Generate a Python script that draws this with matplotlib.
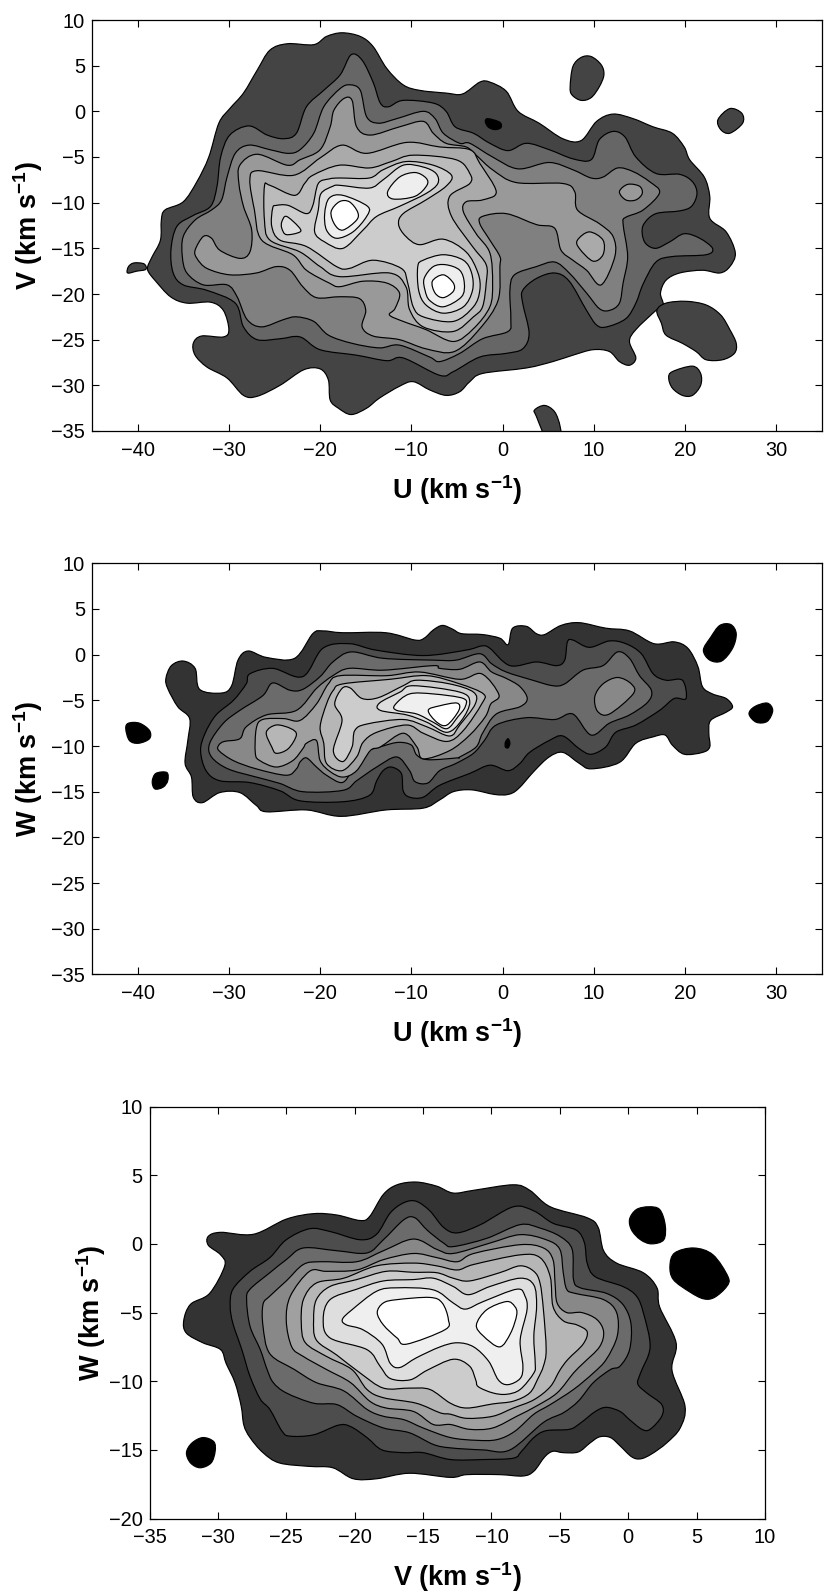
import matplotlib
matplotlib.use('Agg')
import numpy as np
import matplotlib.pyplot as plt
from matplotlib.path import Path
from matplotlib.patches import PathPatch

plt.rcParams['font.family'] = ['Liberation Sans', 'DejaVu Sans']
plt.rcParams['mathtext.default'] = 'regular'

W_PX, H_PX = 830, 1594

# ---------- contour outlines, km/s ----------
# top panel (U, V)
uv_black = [(-1.9,-1.1),(-1.6,-0.8),(-0.3,-1.2),(-0.2,-1.8),(-0.9,-2.0),(-1.6,-1.7)]
uv_l1 = [(-38.9,-17.0),(-38.4,-15.9),(-37.5,-14.1),(-37.4,-11.9),(-37.0,-10.8),(-35.0,-9.9),(-33.5,-7.7),(-32.2,-5.0),
         (-31.1,-1.3),(-29.9,0.3),(-28.4,2.0),(-26.9,4.5),(-25.5,6.7),(-23.6,7.4),(-20.7,7.3),(-19.3,8.2),(-17.6,8.6),
         (-15.6,8.2),(-14.2,7.1),(-12.7,4.7),(-10.9,2.9),(-9.1,2.3),(-6.2,2.0),(-4.4,1.9),(-2.5,3.2),(-1.4,3.2),(0.4,2.2),
         (1.7,0.0),(4.0,-1.3),(6.6,-3.0),(8.6,-3.2),(10.3,-1.1),(12.1,-0.3),(14.3,-0.8),(16.5,-1.7),(18.6,-2.4),(19.9,-3.9),
         (20.5,-5.3),(22.1,-7.2),(22.7,-9.3),(22.7,-11.7),(24.5,-13.2),(25.5,-15.5),(24.9,-17.0),(23.8,-17.7),(21.9,-17.4),
         (19.4,-17.7),(17.9,-18.5),(17.3,-19.9),(17.6,-21.2),(16.8,-21.8),(14.6,-23.9),(13.9,-25.2),(14.6,-27.0),(13.9,-27.8),
         (12.8,-27.4),(11.7,-26.3),(9.9,-26.1),(7.7,-26.7),(5.5,-27.4),(2.6,-28.1),(-2.2,-28.7),(-3.6,-29.6),(-4.7,-30.7),
         (-6.2,-31.1),(-8.0,-30.5),(-9.8,-29.6),(-11.3,-30.1),(-13.5,-31.4),(-14.9,-32.5),(-16.6,-33.2),(-18.0,-32.5),
         (-18.9,-31.6),(-19.1,-29.4),(-20.0,-28.2),(-21.8,-28.3),(-24.4,-30.0),(-26.9,-31.2),(-28.4,-31.1),(-30.2,-29.2),
         (-32.4,-28.0),(-33.7,-26.7),(-33.9,-25.4),(-33.0,-24.6),(-30.6,-24.7),(-30.0,-23.9),(-30.6,-21.8),(-32.0,-20.9),
         (-34.6,-21.0),(-36.4,-20.3),(-38.1,-18.5),(-38.8,-17.6)]
uv_l1_left = [(-41.1,-17.7),(-41.0,-17.0),(-40.4,-16.6),(-39.3,-16.7),(-39.1,-17.3),(-40.1,-17.5)]
uv_l1_top = [(7.4,2.7),(7.7,4.9),(8.6,5.9),(9.7,6.0),(10.8,5.1),(11.1,4.0),(10.6,2.7),(9.7,1.5),(8.6,1.2),(7.6,1.8)]
uv_l1_small = [(23.6,-0.9),(24.9,0.3),(26.2,-0.2),(26.3,-1.3),(24.9,-2.4),(23.9,-2.0)]
uv_l1_right = [(16.9,-21.8),(17.9,-21.0),(20.1,-20.8),(22.3,-21.2),(23.9,-22.3),(24.9,-23.9),(25.6,-25.4),(25.4,-26.5),
               (24.1,-27.2),(22.3,-27.2),(21.2,-26.3),(19.7,-25.4),(17.9,-24.5),(17.4,-23.2)]
uv_l1_low = [(18.2,-29.2),(18.6,-28.5),(20.8,-27.9),(21.7,-28.7),(21.7,-30.0),(20.8,-31.1),(19.7,-31.1),(18.6,-30.3)]
uv_l1_bot = [(3.5,-32.7),(4.6,-32.2),(5.7,-32.9),(6.3,-34.5),(6.3,-36.0),(4.9,-36.0),(3.7,-33.4)]
uv_l2 = [(-36.35,-15.2),(-35.7,-12.6),(-33.9,-11.4),(-32.0,-10.4),(-31.3,-8.2),(-30.9,-5.0),(-29.9,-2.6),(-27.8,-1.6),
         (-25.8,-2.6),(-24.0,-3.0),(-22.6,-2.4),(-21.5,0.5),(-19.6,2.3),(-17.8,4.0),(-16.6,6.2),(-15.4,5.6),(-14.2,3.2),
         (-13.4,0.9),(-12.5,0.5),(-10.9,1.2),(-7.6,0.9),(-6.2,0.0),(-5.2,-1.7),(-3.2,-2.4),(-1.4,-3.5),(0.6,-4.3),(2.6,-3.5),
         (5.1,-4.2),(7.7,-5.2),(9.7,-5.3),(10.6,-3.1),(12.1,-2.2),(13.4,-2.8),(14.6,-5.0),(16.8,-6.8),(19.4,-6.9),(20.8,-7.7),
         (21.3,-9.0),(20.7,-10.4),(19.4,-10.9),(16.8,-11.2),(15.5,-12.3),(15.3,-13.4),(15.7,-14.5),(16.8,-15.0),(18.3,-14.3),
         (19.9,-13.4),(21.6,-13.9),(23.0,-15.0),(22.3,-15.7),(18.6,-15.9),(16.8,-16.5),(15.4,-18.9),(14.6,-21.0),(13.5,-22.7),
         (11.4,-23.6),(10.3,-23.4),(9.2,-21.8),(7.3,-18.6),(5.7,-17.7),(3.7,-18.3),(2.2,-19.6),(2.2,-21.0),(2.9,-24.3),
         (2.2,-26.0),(0.4,-26.5),(-2.5,-26.9),(-5.4,-28.5),(-6.9,-28.9),(-10.9,-27.0),(-12.7,-27.3),(-16.0,-26.7),(-20.0,-26.1),
         (-22.2,-24.7),(-24.4,-24.9),(-26.9,-25.0),(-28.4,-23.6),(-29.3,-21.0),(-32.4,-19.6),(-35.0,-19.0),(-36.1,-17.7)]
uv_l3 = [(-29.3,-4.6),(-27.8,-3.7),(-25.5,-4.2),(-23.5,-4.6),(-22.2,-4.2),(-20.7,-2.4),(-19.6,0.5),(-17.8,2.5),(-16.7,2.9),
         (-15.6,2.3),(-14.9,-0.6),(-13.6,-1.3),(-11.6,-0.8),(-8.7,0.0),(-7.4,-0.8),(-6.5,-2.4),(-4.7,-3.5),(-3.6,-3.5),
         (-1.1,-5.0),(1.7,-6.3),(5.1,-5.6),(7.7,-6.4),(9.7,-7.3),(11.0,-7.2),(12.6,-6.2),(14.3,-6.6),(16.1,-7.7),(17.2,-8.9),
         (15.4,-10.8),(13.5,-11.6),(13.2,-12.3),(13.7,-15.9),(13.2,-18.8),(12.8,-21.0),(11.7,-21.8),(10.6,-21.6),(9.2,-19.9),
         (7.3,-17.7),(5.7,-16.5),(3.7,-17.0),(1.3,-17.9),(0.8,-19.6),(0.9,-22.8),(0.6,-24.1),(-2.2,-24.9),(-4.7,-26.5),
         (-6.9,-27.4),(-8.0,-26.9),(-11.3,-25.6),(-13.5,-25.9),(-16.5,-25.4),(-19.1,-24.5),(-20.7,-23.0),(-22.6,-22.5),
         (-24.0,-22.8),(-26.4,-23.6),(-28.0,-22.8),(-29.1,-20.3),(-30.2,-19.0),(-32.8,-19.0),(-34.6,-17.7),(-35.1,-15.9),
         (-35.0,-13.7),(-33.7,-11.9),(-31.9,-10.8),(-30.8,-9.7),(-30.2,-7.2)]
uv_l4 = [(-33.7,-15.2),(-32.8,-13.7),(-31.9,-13.9),(-31.0,-15.2),(-28.8,-16.1),(-27.7,-15.4),(-27.5,-13.0),(-28.4,-10.4),
         (-28.9,-7.9),(-28.8,-5.9),(-26.9,-4.7),(-23.6,-5.9),(-22.2,-5.3),(-20.0,-4.2),(-18.9,-1.7),(-18.5,0.1),(-17.4,1.4),
         (-16.5,1.2),(-16.0,-1.7),(-14.5,-2.6),(-11.3,-1.7),(-8.7,-1.1),(-7.6,-2.4),(-6.2,-3.5),(-4.0,-3.9),(-2.9,-4.8),
         (-1.1,-6.4),(1.5,-7.8),(6.6,-7.9),(7.9,-8.8),(8.2,-10.8),(10.6,-12.3),(12.1,-13.7),(12.3,-15.9),(10.8,-19.0),
         (9.2,-17.4),(7.7,-16.3),(6.4,-15.2),(5.7,-12.8),(3.7,-12.4),(0.4,-11.2),(-2.2,-11.5),(-2.5,-12.3),(-1.4,-14.1),
         (-0.3,-15.9),(-0.3,-17.0),(-0.5,-20.7),(-2.5,-23.8),(-5.3,-26.3),(-8.4,-26.0),(-11.3,-25.0),(-14.2,-24.6),(-15.4,-23.6),
         (-15.0,-21.8),(-15.7,-20.5),(-17.85,-20.3),(-20.4,-20.4),(-21.9,-19.2),(-23.3,-17.4),(-24.8,-17.0),(-27.0,-17.7),
         (-29.9,-17.9),(-32.4,-17.2),(-33.5,-16.1)]
uv_l4_blob = [(12.8,-8.8),(13.7,-8.0),(15.0,-8.2),(15.3,-9.0),(14.6,-9.7),(13.5,-9.7)]
uv_l5 = [(-27.7,-7.5),(-26.9,-6.5),(-22.9,-7.0),(-20.0,-5.1),(-17.6,-3.7),(-14.9,-4.6),(-10.5,-3.4),(-6.9,-3.9),(-3.6,-4.2),
         (-2.5,-5.7),(-0.7,-8.8),(-2.2,-9.7),(-4.0,-9.9),(-4.3,-11.0),(-2.9,-13.4),(-1.4,-15.5),(-1.1,-18.8),(-1.4,-21.4),
         (-3.2,-23.8),(-5.4,-25.2),(-8.4,-23.9),(-10.9,-23.0),(-12.4,-22.3),(-11.8,-21.6),(-11.3,-19.9),(-12.7,-18.8),
         (-15.3,-18.6),(-17.85,-19.2),(-19.0,-18.8),(-21.5,-17.4),(-23.0,-15.7),(-26.4,-14.1),(-27.2,-10.8)]
uv_l5_blob = [(8.2,-14.1),(9.5,-13.2),(11.0,-14.1),(11.0,-15.7),(9.9,-16.4),(8.4,-15.0)]
uv_l6 = [(-26.1,-8.2),(-25.5,-8.1),(-22.8,-9.2),(-21.7,-7.9),(-20.8,-7.0),(-17.9,-5.9),(-14.6,-6.2),(-12.2,-5.5),(-9.8,-4.8),
         (-5.1,-5.3),(-3.6,-6.8),(-3.6,-7.9),(-5.8,-9.3),(-5.6,-11.5),(-3.3,-14.8),(-1.8,-16.8),(-1.8,-18.8),(-2.2,-21.4),
         (-3.2,-22.5),(-5.4,-24.1),(-8.7,-23.6),(-10.2,-21.7),(-10.6,-19.2),(-12.4,-17.7),(-17.85,-18.1),(-20.0,-17.0),
         (-22.2,-15.4),(-25.5,-14.1),(-26.1,-11.9)]
uv_l7 = [(-25.2,-10.6),(-24.8,-10.3),(-23.5,-10.3),(-21.5,-11.2),(-20.8,-10.3),(-20.2,-7.9),(-19.0,-7.4),(-17.85,-7.3),
         (-14.6,-7.3),(-13.1,-6.4),(-10.6,-5.5),(-7.6,-5.9),(-5.6,-7.0),(-6.2,-8.2),(-8.4,-9.7),(-10.9,-11.2),(-11.4,-12.4),
         (-10.6,-13.7),(-9.1,-14.6),(-6.5,-14.0),(-4.0,-15.4),(-2.7,-17.7),(-2.5,-19.6),(-3.2,-21.4),(-5.4,-23.0),(-8.7,-22.5),
         (-9.8,-21.4),(-10.4,-18.8),(-11.1,-17.2),(-14.2,-16.3),(-16.8,-17.2),(-18.2,-17.0),(-21.5,-14.8),(-24.4,-14.1),(-25.3,-12.6)]
uv_l8 = [(-20.6,-13.2),(-20.2,-10.8),(-19.9,-9.0),(-18.6,-8.2),(-17.85,-8.1),(-14.6,-8.4),(-13.1,-7.5),(-10.9,-5.9),(-8.7,-6.1),
         (-7.3,-6.8),(-7.1,-7.9),(-8.4,-9.0),(-11.3,-10.4),(-13.8,-11.5),(-15.3,-13.0),(-17.5,-15.0),(-19.5,-14.3)]
uv_l8_small = [(-24.2,-12.1),(-23.7,-11.5),(-22.4,-12.6),(-22.2,-13.2),(-23.7,-13.5),(-24.2,-12.8)]
uv_l8_peak = [(-9.3,-17.0),(-8.7,-16.3),(-6.5,-15.7),(-4.3,-16.3),(-3.4,-17.7),(-3.3,-19.6),(-4.3,-21.4),(-6.5,-22.1),(-8.4,-21.2),(-9.2,-19.6)]
uv_l9_peak = [(-8.6,-18.3),(-7.6,-17.0),(-6.2,-16.8),(-4.7,-17.4),(-4.2,-18.8),(-4.5,-20.3),(-6.5,-21.4),(-8.0,-20.7),(-8.5,-19.6)]
uv_l9_blob = [(-12.6,-8.8),(-11.3,-7.2),(-9.6,-6.7),(-8.4,-7.3),(-8.3,-8.1),(-9.6,-9.3),(-12.0,-9.6)]
uv_l9_left = [(-19.5,-11.2),(-19.0,-9.5),(-17.5,-9.2),(-14.8,-10.4),(-14.9,-11.5),(-16.4,-13.2),(-18.2,-13.9),(-19.3,-13.0)]
uv_l10_peak = [(-7.7,-18.6),(-6.5,-17.9),(-5.4,-18.8),(-5.4,-19.7),(-6.5,-20.4),(-7.4,-19.9)]
uv_l10_left = [(-18.8,-11.0),(-17.9,-9.9),(-16.8,-9.9),(-15.9,-11.0),(-16.0,-11.9),(-17.5,-13.0),(-18.4,-12.4)]

# middle panel (U, W)
uw_black = [[(-41.3,-8.1),(-41.0,-7.5),(-39.8,-7.5),(-38.7,-8.3),(-38.7,-9.2),(-39.9,-9.7),(-40.9,-9.4)],
            [(-38.4,-13.9),(-38.0,-13.0),(-36.8,-12.9),(-36.7,-13.8),(-37.2,-14.5),(-38.1,-14.7)],
            [(22.0,0.5),(22.8,1.9),(23.8,3.2),(25.0,3.3),(25.6,2.3),(25.2,0.7),(24.0,-0.7),(22.7,-0.6)],
            [(27.0,-6.5),(27.6,-5.7),(29.0,-5.3),(29.6,-6.1),(29.0,-7.3),(27.8,-7.4)],
            [(0.3,-9.6),(0.6,-9.2),(0.8,-9.7),(0.6,-10.2),(0.3,-10.1)]]
uw_l1 = [(-36.9,-2.6),(-36.3,-1.2),(-35.0,-0.7),(-33.7,-1.5),(-33.2,-3.8),(-30.8,-4.2),(-29.7,-3.4),(-29.0,-0.6),(-27.9,0.4),
         (-25.9,-0.3),(-22.8,-0.4),(-20.8,2.3),(-19.7,2.6),(-17.5,2.4),(-12.8,2.4),(-9.6,1.6),(-8.6,1.8),(-7.6,2.7),(-6.6,3.2),
         (-5.5,2.8),(-4.5,2.3),(-2.2,2.2),(-0.3,1.8),(0.6,1.1),(1.1,2.9),(2.6,3.1),(3.7,2.3),(4.6,2.2),(6.4,3.2),(8.4,3.5),
         (11.3,2.9),(13.9,2.6),(16.6,1.2),(18.8,1.4),(20.3,0.7),(21.4,-1.3),(21.9,-3.5),(23.0,-4.3),(24.5,-4.8),(25.2,-5.7),
         (24.5,-6.3),(22.8,-7.2),(22.6,-8.6),(22.7,-10.1),(21.9,-10.7),(19.9,-10.9),(18.6,-9.9),(17.8,-8.8),(16.5,-9.0),
         (14.6,-9.7),(12.8,-11.8),(9.7,-12.5),(8.4,-11.9),(6.6,-10.7),(5.1,-11.2),(3.5,-12.7),(1.7,-14.7),(0.6,-15.3),
         (-0.9,-15.3),(-3.4,-14.8),(-5.4,-15.0),(-6.9,-15.9),(-8.7,-16.8),(-12.8,-17.0),(-17.7,-17.7),(-21.5,-17.0),(-25.9,-17.2),
         (-27.0,-16.5),(-28.8,-15.1),(-31.0,-15.1),(-32.9,-16.2),(-33.9,-15.6),(-34.1,-13.4),(-34.8,-11.9),(-34.5,-9.4),
         (-34.3,-7.0),(-35.6,-5.7),(-36.7,-3.7)]
uw_l2 = [(-33.1,-10.5),(-32.6,-8.6),(-31.4,-6.6),(-29.5,-5.0),(-28.1,-3.2),(-27.7,-2.1),(-25.2,-1.5),(-21.9,-2.4),(-19.7,0.7),
         (-16.8,1.2),(-13.9,0.5),(-8.7,-0.1),(-4.0,0.5),(-2.3,0.95),(-1.4,0.7),(0.8,-1.2),(3.7,-0.8),(5.9,-1.2),(6.8,-0.6),
         (7.1,1.4),(7.7,1.6),(9.5,0.8),(11.7,1.5),(13.5,1.2),(15.2,0.1),(16.5,-2.1),(17.9,-2.8),(19.7,-2.8),(20.1,-4.8),
         (18.8,-4.8),(17.2,-6.1),(14.6,-7.7),(12.4,-8.5),(11.3,-10.1),(9.7,-10.9),(8.4,-10.3),(6.6,-8.9),(5.1,-9.4),(2.95,-10.7),
         (1.9,-11.9),(0.6,-12.7),(-1.4,-12.1),(-3.6,-13.0),(-6.9,-14.3),(-8.7,-15.6),(-10.2,-15.6),(-10.9,-14.9),(-11.1,-13.0),
         (-12.2,-12.3),(-13.1,-12.7),(-13.8,-13.8),(-14.6,-15.4),(-17.5,-16.1),(-22.2,-16.0),(-24.4,-14.9),(-27.7,-14.0),
         (-31.0,-13.8),(-32.5,-12.7)]
uw_l3 = [(-32.1,-9.7),(-30.6,-7.5),(-28.8,-6.1),(-26.3,-4.5),(-25.2,-3.1),(-23.3,-3.9),(-21.9,-3.8),(-20.0,-2.4),(-18.6,-0.8),
         (-16.6,0.3),(-13.1,-0.4),(-7.6,-0.6),(-5.1,-0.6),(-2.5,0.1),(-1.2,-1.0),(0.4,-1.9),(3.3,-2.8),(5.5,-3.4),(6.8,-3.2),
         (8.8,-1.7),(11.0,-1.2),(12.6,0.3),(13.9,-0.4),(15.0,-2.3),(16.3,-3.9),(15.9,-5.2),(13.9,-6.6),(11.7,-7.5),(9.7,-8.8),
         (7.7,-6.5),(5.7,-7.1),(2.6,-6.9),(-0.7,-7.7),(-2.0,-9.4),(-3.2,-10.8),(-5.1,-11.9),(-6.9,-12.7),(-8.2,-14.05),
         (-9.6,-13.9),(-10.2,-12.7),(-11.6,-11.2),(-13.8,-12.3),(-16.0,-13.8),(-17.5,-14.85),(-21.9,-15.0),(-24.4,-14.1),
         (-27.0,-13.4),(-30.1,-12.5),(-31.9,-11.2)]
uw_l4 = [(-31.1,-9.9),(-30.5,-9.5),(-28.8,-9.2),(-28.1,-7.9),(-25.9,-6.6),(-22.6,-6.1),(-20.4,-3.7),(-18.6,-2.3),(-16.8,-1.5),
         (-13.1,-1.7),(-7.6,-1.2),(-6.9,-1.5),(-4.7,-1.6),(-2.5,-0.8),(-1.2,-1.9),(0.4,-2.6),(1.9,-3.5),(2.7,-4.8),(1.9,-5.7),
         (-0.7,-6.5),(-2.2,-8.6),(-2.9,-10.1),(-4.7,-11.2),(-5.0,-11.3),(-8.15,-11.5),(-9.4,-11.0),(-10.0,-9.9),(-11.4,-9.6),
         (-13.1,-10.0),(-15.3,-10.8),(-16.5,-12.7),(-17.6,-14.0),(-19.3,-13.2),(-20.4,-12.3),(-21.5,-11.3),(-22.2,-11.75),
         (-22.6,-12.5),(-23.7,-13.2),(-27.0,-12.5),(-29.5,-11.6),(-31.1,-10.5)]
uw_l4_blob = [(10.1,-4.6),(11.0,-3.2),(12.6,-2.5),(14.1,-3.2),(14.3,-4.3),(11.7,-6.5),(10.4,-6.2)]
uw_l5 = [(-22.2,-7.2),(-20.4,-5.4),(-19.1,-3.2),(-17.8,-2.3),(-12.7,-2.3),(-9.1,-1.9),(-4.7,-2.7),(-2.3,-2.1),(-0.4,-4.4),
         (-1.3,-5.4),(-1.9,-6.8),(-3.6,-8.8),(-5.8,-10.5),(-8.7,-11.4),(-9.4,-10.1),(-10.9,-8.6),(-13.4,-10.1),(-14.5,-10.5),
         (-16.0,-12.7),(-17.5,-13.4),(-18.9,-12.8),(-20.0,-11.6),(-20.4,-9.4),(-21.5,-9.7),(-21.9,-10.3),(-23.0,-11.6),
         (-24.8,-12.3),(-26.6,-11.6),(-27.1,-10.8),(-27.0,-8.1),(-26.3,-7.1),(-24.0,-7.0)]
uw_l6 = [(-20.0,-7.9),(-19.3,-5.4),(-18.55,-3.9),(-17.5,-3.2),(-12.35,-2.7),(-8.3,-2.3),(-4.7,-3.2),(-2.1,-4.3),(-2.3,-5.4),
         (-4.3,-8.3),(-6.1,-9.5),(-8.7,-8.6),(-10.5,-7.7),(-13.8,-8.5),(-15.3,-9.6),(-16.0,-11.2),(-17.6,-12.7),(-19.3,-11.9),(-19.6,-9.7)]
uw_l6_blob = [(-25.9,-8.5),(-24.8,-7.7),(-23.2,-8.1),(-22.6,-8.8),(-23.5,-10.3),(-24.8,-10.8),(-25.3,-10.1)]
uw_l7 = [(-18.4,-5.4),(-17.6,-3.7),(-16.7,-3.65),(-15.4,-4.8),(-13.6,-4.7),(-10.9,-3.4),(-9.4,-2.8),(-5.8,-3.2),(-3.2,-4.1),
         (-3.0,-5.4),(-4.7,-7.7),(-5.8,-8.9),(-8.3,-7.9),(-10.9,-7.1),(-14.9,-7.6),(-16.2,-8.3),(-16.5,-10.1),(-17.5,-11.7),
         (-18.55,-10.5),(-17.6,-7.2)]
uw_l8 = [(-13.5,-5.3),(-11.25,-4.1),(-9.8,-3.4),(-4.7,-4.1),(-3.6,-5.2),(-4.5,-7.2),(-6.1,-8.5),(-8.3,-7.4),(-10.5,-6.6),(-13.4,-6.1)]
uw_l9 = [(-11.8,-5.5),(-10.2,-4.3),(-7.6,-4.3),(-4.3,-4.8),(-4.1,-5.7),(-4.9,-6.8),(-6.1,-8.1),(-7.6,-7.4),(-9.4,-6.5),(-11.6,-6.1)]
uw_l10 = [(-8.15,-6.1),(-6.9,-5.6),(-5.0,-5.3),(-4.8,-6.1),(-6.1,-7.7),(-7.2,-7.4)]

# bottom panel (V, W)
vw_black = [[(-32.3,-15.2),(-31.9,-14.5),(-31.1,-14.1),(-30.3,-14.4),(-30.2,-15.1),(-30.5,-15.95),(-31.3,-16.3),(-32.0,-15.95)],
            [(0.1,1.8),(0.6,2.5),(1.5,2.7),(2.3,2.5),(2.7,1.4),(2.6,0.3),(1.7,0.0),(0.9,0.3),(0.25,1.0)],
            [(3.05,-1.6),(3.4,-0.66),(4.8,-0.3),(6.2,-0.8),(7.3,-2.4),(7.2,-3.1),(6.3,-3.9),(5.5,-4.0),(4.5,-3.5),(3.3,-2.6)]]
vw_l1 = [(-32.5,-5.6),(-32.0,-4.4),(-30.6,-3.6),(-29.5,-1.6),(-29.8,-0.8),(-30.7,-0.1),(-30.7,0.55),(-29.8,0.84),(-27.4,0.7),
         (-25.0,1.8),(-23.0,2.2),(-21.3,2.1),(-19.6,1.7),(-18.9,2.0),(-17.9,3.6),(-16.9,4.3),(-15.5,4.5),(-14.0,4.2),(-12.8,3.7),
         (-11.3,3.9),(-8.4,4.3),(-7.2,3.9),(-5.7,2.7),(-3.0,1.9),(-2.2,1.2),(-1.8,-0.5),(-0.85,-1.4),(1.1,-2.1),(2.1,-3.2),
         (2.3,-4.6),(3.5,-7.2),(3.2,-9.2),(4.15,-11.8),(3.8,-13.4),(2.8,-14.5),(1.7,-15.3),(0.9,-15.65),(0.25,-15.5),(-0.6,-14.7),
         (-1.3,-14.1),(-2.1,-14.05),(-2.8,-14.5),(-3.65,-15.15),(-4.75,-15.2),(-5.5,-15.1),(-6.1,-15.5),(-6.9,-16.55),(-7.7,-16.9),
         (-9.4,-16.8),(-11.8,-16.8),(-13.0,-17.0),(-16.0,-16.7),(-18.4,-17.1),(-20.1,-17.1),(-21.6,-16.3),(-23.3,-16.2),
         (-25.5,-15.95),(-26.7,-15.2),(-27.65,-14.1),(-28.1,-13.2),(-28.3,-11.8),(-28.75,-10.1),(-29.4,-8.7),(-29.8,-7.7),
         (-31.1,-7.2),(-32.3,-6.5)]
vw_l2 = [(-29.1,-4.55),(-28.9,-3.3),(-27.65,-2.0),(-26.2,-1.0),(-25.0,0.3),(-23.3,1.1),(-21.8,0.9),(-19.6,0.3),(-18.4,0.7),
         (-17.4,2.25),(-16.4,3.0),(-15.5,3.1),(-14.5,2.4),(-13.5,1.2),(-12.5,0.8),(-10.8,1.4),(-8.4,2.7),(-6.9,2.4),(-5.5,1.5),
         (-3.8,1.0),(-3.2,0.07),(-3.0,-1.4),(-2.4,-2.4),(-0.4,-3.1),(0.6,-3.8),(1.1,-5.0),(1.6,-7.5),(0.9,-9.4),(0.7,-10.2),
         (1.35,-10.85),(2.45,-11.7),(2.45,-12.55),(1.6,-13.5),(1.0,-13.5),(0.1,-12.8),(-0.6,-12.2),(-1.6,-11.9),(-2.4,-12.2),
         (-3.5,-13.05),(-4.3,-13.5),(-6.0,-13.6),(-6.9,-14.1),(-7.8,-15.1),(-8.4,-15.6),(-10.6,-15.7),(-13.0,-15.7),(-15.0,-15.2),
         (-16.4,-15.2),(-18.0,-15.0),(-19.1,-14.1),(-20.3,-13.3),(-21.2,-13.2),(-23.0,-13.9),(-24.7,-14.0),(-25.3,-13.65),
         (-26.2,-12.05),(-26.9,-11.3),(-27.65,-9.65),(-28.25,-7.7),(-28.9,-5.8)]
vw_l3 = [(-27.9,-4.06),(-27.65,-3.3),(-26.2,-2.1),(-25.0,-1.15),(-23.75,-0.3),(-21.3,-0.5),(-19.1,-0.66),(-17.9,0.3),(-16.4,1.76),
         (-15.6,1.9),(-14.7,1.0),(-13.5,0.06),(-12.8,-0.2),(-10.35,0.4),(-7.9,1.4),(-6.45,1.15),(-5.0,0.55),(-4.1,-0.4),(-4.0,-2.6),
         (-3.5,-3.2),(-1.6,-3.6),(-0.4,-4.4),(0.2,-5.8),(0.1,-7.7),(-0.6,-8.9),(-1.3,-9.15),(-2.55,-10.1),(-3.65,-11.45),(-4.75,-12.3),
         (-6.2,-13.0),(-8.65,-15.0),(-10.6,-15.0),(-13.0,-14.85),(-14.25,-14.6),(-16.0,-13.75),(-17.9,-13.4),(-19.85,-12.55),
         (-21.3,-11.7),(-23.0,-11.6),(-25.0,-10.85),(-25.95,-10.1),(-26.4,-9.15),(-26.9,-7.7),(-27.65,-6.0)]
vw_l4 = [(-26.7,-4.4),(-26.2,-3.8),(-25.0,-2.7),(-23.75,-1.5),(-22.5,-1.3),(-19.85,-1.3),(-17.9,-0.5),(-15.7,0.35),(-14.0,-0.4),
         (-12.8,-0.7),(-10.1,0.06),(-7.9,0.67),(-6.0,0.3),(-5.0,-0.4),(-4.75,-2.1),(-4.5,-3.3),(-3.9,-3.6),(-1.8,-4.06),(-0.85,-5.0),
         (-0.8,-6.7),(-1.6,-8.4),(-2.55,-9.4),(-4.0,-10.6),(-5.7,-11.7),(-6.9,-12.4),(-8.3,-13.65),(-9.6,-14.25),(-11.1,-14.3),
         (-13.0,-14.1),(-15.0,-13.4),(-16.4,-12.8),(-17.9,-12.55),(-19.1,-12.05),(-20.8,-10.7),(-22.8,-10.1),(-24.4,-9.15),
         (-26.2,-8.0),(-26.7,-6.0)]
vw_l5 = [(-25.0,-5.6),(-24.7,-3.8),(-23.3,-2.0),(-22.05,-2.0),(-19.85,-1.9),(-17.9,-1.15),(-15.7,-0.7),(-14.0,-1.0),(-12.5,-1.3),
         (-11.3,-0.7),(-7.9,-0.06),(-6.2,-0.3),(-5.5,-1.15),(-5.35,-2.85),(-5.2,-4.3),(-4.5,-5.0),(-3.4,-5.0),(-2.3,-5.5),(-1.8,-6.4),
         (-2.1,-7.5),(-3.3,-8.7),(-4.0,-9.4),(-5.2,-10.85),(-6.7,-11.8),(-8.15,-12.55),(-9.9,-13.4),(-11.6,-13.5),(-13.0,-13.15),
         (-14.25,-13.15),(-15.7,-12.2),(-17.7,-11.95),(-18.9,-11.45),(-20.3,-10.1),(-22.05,-9.15),(-23.75,-8.2),(-24.6,-7.5)]
vw_l6 = [(-23.9,-5.8),(-23.75,-4.06),(-22.8,-2.85),(-20.8,-2.5),(-18.4,-1.6),(-15.7,-1.4),(-14.0,-1.6),(-12.5,-1.9),(-11.3,-1.5),
         (-7.9,-0.8),(-6.45,-1.0),(-5.7,-2.4),(-5.5,-4.55),(-4.75,-5.6),(-3.75,-5.9),(-3.0,-6.4),(-3.3,-7.3),(-4.4,-8.4),(-5.0,-9.2),
         (-5.7,-10.4),(-6.9,-11.35),(-8.4,-11.95),(-9.9,-12.55),(-11.8,-12.7),(-13.0,-12.4),(-13.75,-12.3),(-15.5,-11.6),(-17.9,-11.2),
         (-19.1,-10.6),(-20.2,-9.15),(-22.05,-8.2),(-23.6,-7.2)]
vw_l7 = [(-23.0,-5.5),(-22.8,-4.06),(-21.8,-3.1),(-19.85,-2.6),(-17.7,-2.0),(-15.7,-2.07),(-14.0,-2.1),(-12.8,-2.5),(-11.6,-2.7),
         (-9.4,-2.1),(-7.9,-1.6),(-6.9,-2.0),(-6.45,-2.85),(-6.2,-4.8),(-6.0,-7.7),(-6.2,-8.9),(-6.6,-9.8),(-7.2,-10.85),(-8.4,-11.45),
         (-9.9,-11.65),(-11.8,-11.95),(-13.0,-11.6),(-14.5,-10.6),(-16.0,-10.5),(-17.9,-10.5),(-19.6,-9.4),(-21.3,-8.1),(-22.8,-7.0)]
vw_l8 = [(-22.3,-5.5),(-21.8,-4.06),(-19.85,-3.3),(-17.9,-2.7),(-15.7,-2.6),(-14.25,-2.5),(-12.8,-3.1),(-11.7,-3.7),(-10.1,-3.1),
         (-7.9,-2.5),(-6.9,-3.0),(-6.7,-4.55),(-6.9,-6.7),(-6.8,-8.7),(-6.9,-9.4),(-7.9,-10.6),(-8.9,-10.95),(-9.9,-10.85),(-10.96,-10.4),
         (-11.15,-9.9),(-11.6,-8.9),(-12.8,-8.4),(-14.7,-9.2),(-15.95,-9.9),(-17.4,-9.8),(-18.15,-8.9),(-19.1,-7.7),(-21.8,-6.85)]
vw_l9 = [(-20.9,-5.5),(-20.2,-4.8),(-18.4,-3.45),(-16.9,-3.2),(-14.25,-3.35),(-12.8,-4.3),(-11.9,-4.75),(-10.6,-4.2),(-8.15,-3.3),
         (-7.55,-3.8),(-7.4,-4.8),(-7.9,-7.0),(-7.7,-8.9),(-7.9,-9.8),(-8.8,-10.25),(-9.5,-9.9),(-10.2,-8.55),(-11.3,-7.5),(-12.5,-7.2),
         (-13.76,-7.5),(-15.5,-8.3),(-16.7,-9.0),(-17.4,-8.7),(-18.0,-7.3),(-19.4,-6.25),(-20.6,-5.9)]
vw_l10_left = [(-18.35,-5.0),(-17.9,-4.3),(-16.9,-4.06),(-14.5,-3.9),(-13.6,-4.3),(-13.15,-5.5),(-13.4,-6.25),(-16.2,-7.3),(-16.9,-6.85),(-17.9,-5.9)]
vw_l10_right = [(-11.1,-5.9),(-10.35,-4.8),(-8.9,-4.2),(-8.3,-4.55),(-8.15,-5.15),(-8.6,-6.5),(-9.4,-7.5),(-10.6,-6.7)]

# ---------- tick labels, limits, greys ----------
u_ticks = [-40, -30, -20, -10, 0, 10, 20, 30]
vw_y_ticks = [-35, -30, -25, -20, -15, -10, -5, 0, 5, 10]
v_ticks = [-35, -30, -25, -20, -15, -10, -5, 0, 5, 10]
w_ticks = [-20, -15, -10, -5, 0, 5, 10]

grey_top = ['#444444', '#666666', '#808080', '#999999', '#aaaaaa', '#bbbbbb', '#cccccc', '#dddddd', '#eeeeee', '#ffffff']
grey_low = ['#333333', '#4d4d4d', '#6b6b6b', '#888888', '#a0a0a0', '#b6b6b6', '#cccccc', '#dedede', '#efefef', '#ffffff']


def smooth(xy):
    """closed Catmull-Rom outline turned into a bezier path"""
    p = np.array(xy, dtype=float)
    n = len(p)
    verts = [p[0]]
    codes = [Path.MOVETO]
    for i in range(n):
        p0, p1, p2, p3 = p[i - 1], p[i], p[(i + 1) % n], p[(i + 2) % n]
        verts += [p1 + (p2 - p0) / 6, p2 - (p3 - p1) / 6, p2]
        codes += [Path.CURVE4] * 3
    return Path(verts, codes)


def add_axes(left, right, top, bottom):
    return fig.add_axes([left / W_PX, 1 - bottom / H_PX, (right - left) / W_PX, (bottom - top) / H_PX])


def draw_panel(ax, levels, xlim, ylim, xt, yt, xlab, ylab, xlab_off, ylab_off):
    for z, (color, outlines) in enumerate(levels):
        for xy in outlines:
            ax.add_patch(PathPatch(smooth(xy), fc=color, ec='black', lw=0.85, zorder=z + 1))
    ax.set_xlim(xlim)
    ax.set_ylim(ylim)
    ax.set_xticks(xt)
    ax.set_yticks(yt)
    ax.tick_params(direction='in', top=True, right=True, length=5, width=0.8, labelsize=14.4, pad=5)
    ax.tick_params(axis='x', pad=7)
    for s in ax.spines.values():
        s.set_linewidth(0.9)
        s.set_zorder(20)
    bb = ax.get_position()
    ax.set_xlabel(xlab, fontsize=19.5, fontweight='bold')
    ax.set_ylabel(ylab, fontsize=19.5, fontweight='bold')
    ax.xaxis.set_label_coords(0.5, -xlab_off / (bb.height * H_PX))
    ax.yaxis.set_label_coords(-ylab_off / (bb.width * W_PX), 0.5)
    ax.xaxis.label.set_va('center')
    ax.yaxis.label.set_va('center')


fig = plt.figure(figsize=(W_PX / 100, H_PX / 100), dpi=100)

ax1 = add_axes(92, 822, 20, 431)
draw_panel(ax1,
           [(grey_top[0], [uv_l1, uv_l1_left, uv_l1_top, uv_l1_small, uv_l1_right, uv_l1_low, uv_l1_bot]),
            ('black', [uv_black]),
            (grey_top[1], [uv_l2]),
            (grey_top[2], [uv_l3]),
            (grey_top[3], [uv_l4, uv_l4_blob]),
            (grey_top[4], [uv_l5, uv_l5_blob]),
            (grey_top[5], [uv_l6]),
            (grey_top[6], [uv_l7]),
            (grey_top[7], [uv_l8, uv_l8_small, uv_l8_peak]),
            (grey_top[8], [uv_l9_peak, uv_l9_blob, uv_l9_left]),
            (grey_top[9], [uv_l10_peak, uv_l10_left])],
           (-45, 35), (-35, 10), u_ticks, vw_y_ticks,
           'U (km s$^{-1}$)', 'V (km s$^{-1}$)', 59, 64)

ax2 = add_axes(92, 822, 563.3, 974.4)
draw_panel(ax2,
           [('black', uw_black),
            (grey_low[0], [uw_l1]),
            (grey_low[1], [uw_l2]),
            (grey_low[2], [uw_l3]),
            (grey_low[3], [uw_l4, uw_l4_blob]),
            (grey_low[4], [uw_l5]),
            (grey_low[5], [uw_l6, uw_l6_blob]),
            (grey_low[6], [uw_l7]),
            (grey_low[7], [uw_l8]),
            (grey_low[8], [uw_l9]),
            (grey_low[9], [uw_l10])],
           (-45, 35), (-35, 10), u_ticks, vw_y_ticks,
           'U (km s$^{-1}$)', 'W (km s$^{-1}$)', 59, 64)
# the tiny black spot sits inside the second contour
ax2.add_patch(PathPatch(smooth(uw_black[4]), fc='black', ec='black', lw=0.85, zorder=15))

ax3 = add_axes(149.5, 765, 1106.5, 1518.6)
draw_panel(ax3,
           [('black', vw_black),
            (grey_low[0], [vw_l1]),
            (grey_low[1], [vw_l2]),
            (grey_low[2], [vw_l3]),
            (grey_low[3], [vw_l4]),
            (grey_low[4], [vw_l5]),
            (grey_low[5], [vw_l6]),
            (grey_low[6], [vw_l7]),
            (grey_low[7], [vw_l8]),
            (grey_low[8], [vw_l9]),
            (grey_low[9], [vw_l10_left, vw_l10_right])],
           (-35, 10), (-20, 10), v_ticks, w_ticks,
           'V (km s$^{-1}$)', 'W (km s$^{-1}$)', 59, 58)

fig.savefig('out.png', dpi=100)
